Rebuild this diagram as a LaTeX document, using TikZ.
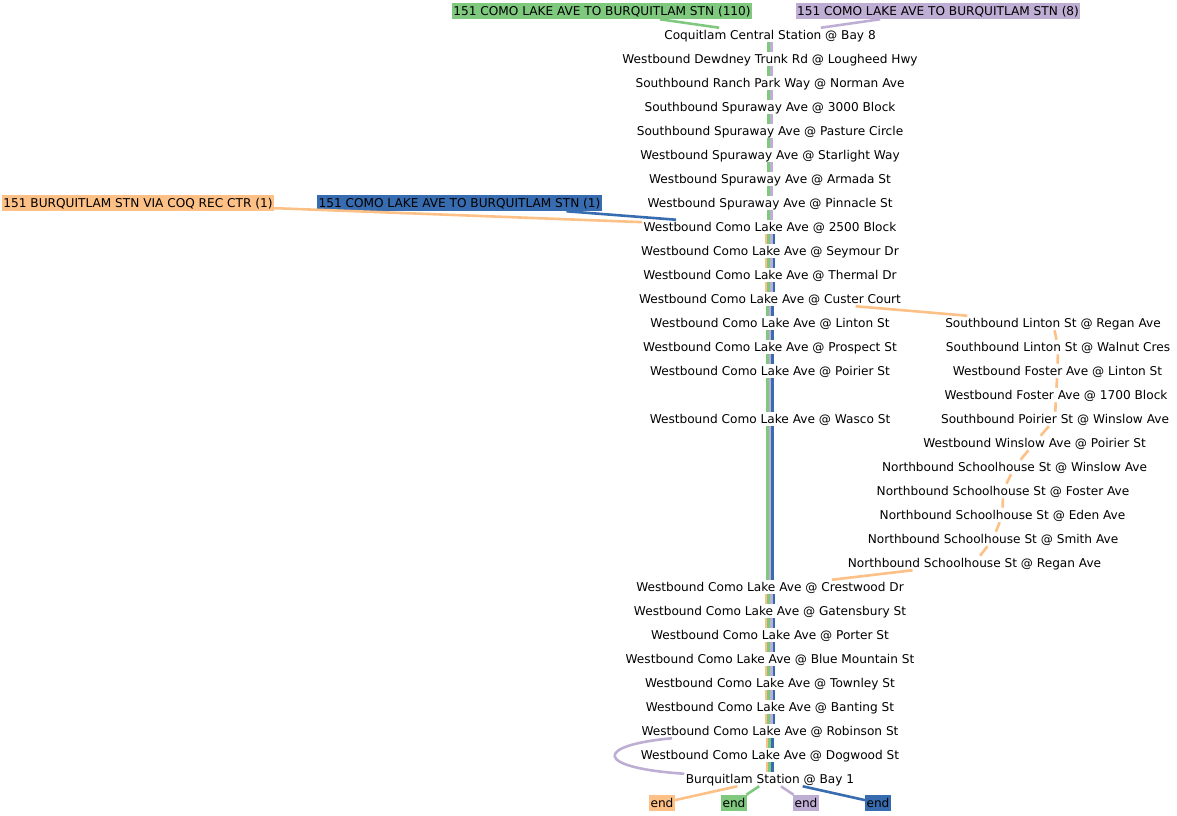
\documentclass[tikz,border=0pt]{standalone}
\usepackage{fontspec}
\setmainfont{DejaVu Sans}
\usetikzlibrary{calc}
\definecolor{corange}{HTML}{FDC086}
\definecolor{cgreen}{HTML}{7FC97F}
\definecolor{cpurple}{HTML}{BEAED4}
\definecolor{cblue}{HTML}{386CB0}
\newcommand\trunkbars[3]{%
  \foreach \cc/\oo in {#3} {\draw[routeline=\cc] ($(#1.south)+(\oo,0)$) -- ($(#2.north)+(\oo,0)$);}}
\begin{document}
\begin{tikzpicture}[x=0.75pt,y=-0.75pt,
  stopnode/.style={inner xsep=1pt, inner ysep=0.5pt, text height=7.8pt, text depth=1.7pt,
    font=\fontsize{9.1}{11}\selectfont},
  labnode/.style={stopnode, inner ysep=1.25pt, fill=#1},
  routeline/.style={draw=#1, line width=1.95pt},
]
\useasboundingbox (0,0) rectangle (1177,816);

% trunk stops
\node[stopnode] (s1) at (770,35) {Coquitlam Central Station @ Bay 8};
\node[stopnode] (s2) at (770,59) {Westbound Dewdney Trunk Rd @ Lougheed Hwy};
\node[stopnode] (s3) at (770,83) {Southbound Ranch Park Way @ Norman Ave};
\node[stopnode] (s4) at (770,107) {Southbound Spuraway Ave @ 3000 Block};
\node[stopnode] (s5) at (770,131) {Southbound Spuraway Ave @ Pasture Circle};
\node[stopnode] (s6) at (770,155) {Westbound Spuraway Ave @ Starlight Way};
\node[stopnode] (s7) at (770,179) {Westbound Spuraway Ave @ Armada St};
\node[stopnode] (s8) at (770,203) {Westbound Spuraway Ave @ Pinnacle St};
\node[stopnode] (s9) at (770,227) {Westbound Como Lake Ave @ 2500 Block};
\node[stopnode] (s10) at (770,251) {Westbound Como Lake Ave @ Seymour Dr};
\node[stopnode] (s11) at (770,275) {Westbound Como Lake Ave @ Thermal Dr};
\node[stopnode] (s12) at (770,299) {Westbound Como Lake Ave @ Custer Court};
\node[stopnode] (s13) at (770,323) {Westbound Como Lake Ave @ Linton St};
\node[stopnode] (s14) at (770,347) {Westbound Como Lake Ave @ Prospect St};
\node[stopnode] (s15) at (770,371) {Westbound Como Lake Ave @ Poirier St};
\node[stopnode] (s16) at (770,419) {Westbound Como Lake Ave @ Wasco St};
\node[stopnode] (s17) at (770,587) {Westbound Como Lake Ave @ Crestwood Dr};
\node[stopnode] (s18) at (770,611) {Westbound Como Lake Ave @ Gatensbury St};
\node[stopnode] (s19) at (770,635) {Westbound Como Lake Ave @ Porter St};
\node[stopnode] (s20) at (770,659) {Westbound Como Lake Ave @ Blue Mountain St};
\node[stopnode] (s21) at (770,683) {Westbound Como Lake Ave @ Townley St};
\node[stopnode] (s22) at (770,707) {Westbound Como Lake Ave @ Banting St};
\node[stopnode] (s23) at (770,731) {Westbound Como Lake Ave @ Robinson St};
\node[stopnode] (s24) at (770,755) {Westbound Como Lake Ave @ Dogwood St};
\node[stopnode] (s25) at (770,779) {Burquitlam Station @ Bay 1};

% branch stops
\node[stopnode] (b1) at (1053,323) {Southbound Linton St @ Regan Ave};
\node[stopnode] (b2) at (1058,347) {Southbound Linton St @ Walnut Cres};
\node[stopnode] (b3) at (1057.5,371) {Westbound Foster Ave @ Linton St};
\node[stopnode] (b4) at (1056,395) {Westbound Foster Ave @ 1700 Block};
\node[stopnode] (b5) at (1055,419) {Southbound Poirier St @ Winslow Ave};
\node[stopnode] (b6) at (1034.5,443) {Westbound Winslow Ave @ Poirier St};
\node[stopnode] (b7) at (1014.5,467) {Northbound Schoolhouse St @ Winslow Ave};
\node[stopnode] (b8) at (1003,491) {Northbound Schoolhouse St @ Foster Ave};
\node[stopnode] (b9) at (1002.5,515) {Northbound Schoolhouse St @ Eden Ave};
\node[stopnode] (b10) at (993,539) {Northbound Schoolhouse St @ Smith Ave};
\node[stopnode] (b11) at (974.5,563) {Northbound Schoolhouse St @ Regan Ave};

% route labels
\node[labnode=cgreen] (rg) at (602,11) {151 COMO LAKE AVE TO BURQUITLAM STN (110)};
\node[labnode=cpurple] (rp) at (938,11) {151 COMO LAKE AVE TO BURQUITLAM STN (8)};
\node[labnode=corange] (ro) at (138,203) {151 BURQUITLAM STN VIA COQ REC CTR (1)};
\node[labnode=cblue] (rb) at (459.5,203) {151 COMO LAKE AVE TO BURQUITLAM STN (1)};

% end labels
\node[labnode=corange] (eo) at (662,803) {end};
\node[labnode=cgreen] (eg) at (734,803) {end};
\node[labnode=cpurple] (ep) at (806,803) {end};
\node[labnode=cblue] (eb) at (878,803) {end};

% label edges
\draw[routeline=cgreen] (rg) -- (s1);
\draw[routeline=cpurple] (rp) -- (s1);
\draw[routeline=corange] (ro) -- (s9);
\draw[routeline=cblue] (rb) -- (s9);

% trunk bars
\foreach \a/\b in {s1/s2,s2/s3,s3/s4,s4/s5,s5/s6,s6/s7,s7/s8,s8/s9}
  {\trunkbars{\a}{\b}{cgreen/-1.3,cpurple/1.3}}
\foreach \a/\b in {s9/s10,s10/s11,s11/s12,s17/s18,s18/s19,s19/s20,s20/s21,s21/s22,s22/s23}
  {\trunkbars{\a}{\b}{corange/-3.9,cgreen/-1.3,cpurple/1.3,cblue/3.9}}
\foreach \a/\b in {s12/s13,s13/s14,s14/s15,s15/s16,s16/s17}
  {\trunkbars{\a}{\b}{cgreen/-2.6,cpurple/0,cblue/2.6}}
\foreach \a/\b in {s23/s24,s24/s25}
  {\trunkbars{\a}{\b}{corange/-3,cgreen/-0.4,cblue/2.2}}

% orange branch
\draw[routeline=corange] (s12) -- (b1) -- (b2) -- (b3) -- (b4) -- (b5) -- (b6)
  -- (b7) -- (b8) -- (b9) -- (b10) -- (b11) -- (s17);

% purple loop
\draw[routeline=cpurple] ($(s23.south)+(-98,0)$) .. controls +(-78,7) and +(-91,-6) .. ($(s25.north west)+(0,2)$);

% end edges
\draw[routeline=corange] (s25) -- (eo);
\draw[routeline=cgreen] (s25) -- (eg);
\draw[routeline=cpurple] (s25) -- (ep);
\draw[routeline=cblue] (s25) -- (eb);
\end{tikzpicture}
\end{document}
